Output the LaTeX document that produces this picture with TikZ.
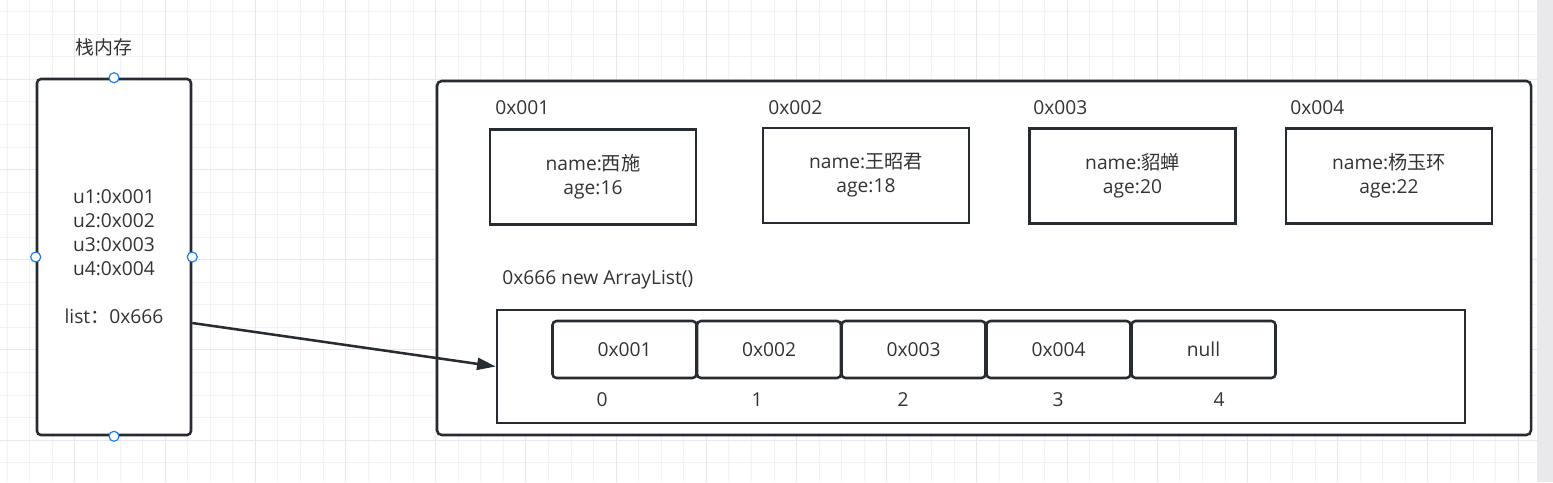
\documentclass[tikz,border=0pt]{standalone}
\usepackage{fontspec}
\setmainfont{Open Sans}
\newfontfamily\cjk{Noto Sans CJK SC}
\usetikzlibrary{arrows.meta,calc}
\definecolor{ink}{HTML}{262C31}
\definecolor{txt}{HTML}{333333}
\definecolor{gridminor}{HTML}{F2F2F2}
\definecolor{gridmajor}{HTML}{E8E8E8}
\definecolor{handlec}{HTML}{1A7EF5}
\definecolor{scrollc}{HTML}{E9E9EB}
\tikzset{
  basefont/.style={font=\fontsize{14.4pt}{18pt}\selectfont, text=txt},
  stackbox/.style={draw=ink, line width=1.9pt, fill=white, rounded corners=3pt, basefont, align=center,
     minimum width=154*0.75pt, minimum height=356*0.75pt, inner sep=0pt},
  heapbox/.style={draw=ink, line width=1.9pt, fill=white, rounded corners=3.5pt,
     minimum width=1094*0.75pt, minimum height=354*0.75pt, inner sep=0pt},
  objbox/.style={draw=ink, line width=1.9pt, fill=white, basefont, align=center,
     minimum width=206*0.75pt, minimum height=95*0.75pt, inner sep=0pt},
  listbox/.style={draw=ink, line width=1.9pt, fill=white,
     minimum width=968*0.75pt, minimum height=113*0.75pt, inner sep=0pt},
  cellbox/.style={draw=ink, line width=1.9pt, fill=white, rounded corners=3pt, basefont,
     minimum width=144*0.75pt, minimum height=57*0.75pt, inner sep=0pt},
  lbl/.style={basefont, inner sep=0pt, anchor=west},
  idx/.style={basefont, inner sep=0pt},
  handle/.style={circle, draw=handlec, line width=0.9pt, fill=white, minimum size=7.5pt, inner sep=0pt},
  ptr/.style={draw=ink, line width=1.9pt, -{Triangle[length=14pt,width=9pt]}},
}
\begin{document}
\begin{tikzpicture}[x=0.75pt,y=-0.75pt]
\useasboundingbox (0,0) rectangle (1553,482);
\fill[white] (0,0) rectangle (1553,482);
% background grid
\foreach \i in {0,...,67}{
  \pgfmathsetmacro\xx{7.3+22.55*\i}
  \draw[gridminor, line width=0.75pt] (\xx,0) -- (\xx,482);
}
\foreach \j in {0,...,20}{
  \pgfmathsetmacro\yy{11.7+22.55*\j}
  \draw[gridminor, line width=0.75pt] (0,\yy) -- (1537,\yy);
}
\foreach \i in {3,7,...,67}{
  \pgfmathsetmacro\xx{7.3+22.55*\i}
  \draw[gridmajor, line width=0.75pt] (\xx,0) -- (\xx,482);
}
\foreach \j in {3,7,...,19}{
  \pgfmathsetmacro\yy{11.7+22.55*\j}
  \draw[gridmajor, line width=0.75pt] (0,\yy) -- (1537,\yy);
}
\fill[scrollc] (1537,0) rectangle (1553,482);

% stack
\node[font=\fontsize{14.2pt}{16pt}\selectfont\cjk, text=txt, inner sep=0pt] (title) at (104,47) {栈内存};
\node[stackbox] (stack) at (114,257) {u1:0x001\\u2:0x002\\u3:0x003\\u4:0x004\\[18pt]list{\cjk ：}0x666};

% heap
\node[heapbox] (heap) at (984,258) {};
\node[lbl] (a1) at (495,108) {0x001};
\node[lbl] (a2) at (768,108) {0x002};
\node[lbl] (a3) at (1033,108) {0x003};
\node[lbl] (a4) at (1290,108) {0x004};
\node[objbox] (o1) at (593,177) {name:{\cjk 西施}\\age:16};
\node[objbox] (o2) at (866,175.5) {name:{\cjk 王昭君}\\age:18};
\node[objbox] (o3) at (1132.5,176) {name:{\cjk 貂蝉}\\age:20};
\node[objbox] (o4) at (1389,176) {name:{\cjk 杨玉环}\\age:22};

\node[lbl] (alabel) at (502,280) {0x666 new ArrayList()};
\node[listbox] (list) at (981,366.5) {};
\node[cellbox] (c0) at (624.5,349.5) {0x001};
\node[cellbox] (c1) at (769,349.5) {0x002};
\node[cellbox] (c2) at (913.5,349.5) {0x003};
\node[cellbox] (c3) at (1058.5,349.5) {0x004};
\node[cellbox] (c4) at (1203.5,349.5) {null};
\node[idx] (i0) at (602,400) {0};
\node[idx] (i1) at (757,400) {1};
\node[idx] (i2) at (903,400) {2};
\node[idx] (i3) at (1058,400) {3};
\node[idx] (i4) at (1219,400) {4};

% pointer
\draw[ptr] ([yshift=-66*0.75pt]stack.east) -- (list.west);

% selection handles
\node[handle] (hN) at (stack.north) {};
\node[handle] (hS) at (stack.south) {};
\node[handle] (hW) at (stack.west) {};
\node[handle] (hE) at (stack.east) {};
\end{tikzpicture}
\end{document}
